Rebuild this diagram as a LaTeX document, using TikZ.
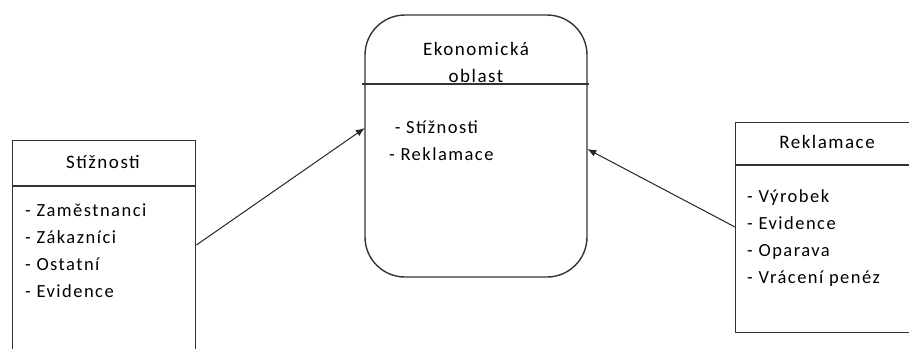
\documentclass[tikz,border=0pt]{standalone}
\usepackage{fontspec}
\setmainfont{Carlito}
\newfontfamily\spaced[LetterSpace=8]{Carlito}
\usetikzlibrary{arrows.meta}
\begin{document}
\begin{tikzpicture}[x=1pt,y=-1pt,
  boxline/.style={draw=black!80,line width=1.4pt},
  title/.style={font=\spaced\fontsize{19}{27}\selectfont,text=black},
  items/.style={font=\spaced\fontsize{18.5}{27}\selectfont,text=black,align=left,anchor=north west,inner sep=0pt},
  arr/.style={draw=black!85,line width=1pt,-{Latex[length=9pt,width=7pt]}}]
\useasboundingbox (0,0) rectangle (909,348);
\clip (0,0) rectangle (909,348);
\fill[white] (0,0) rectangle (909,348);
% central area box
\draw[boxline,rounded corners=40pt] (365,15) rectangle (587,277);
\node[minimum width=222pt,minimum height=262pt,inner sep=0pt] (cbox) at (476,146) {};
\draw[boxline] (362,84) -- (589,84);
\node[title,align=center] (ctitle) at (476,62) {Ekonomická\\oblast};
\node[items] (citems) at (389,121) {\ - Stížnosti\\- Reklamace};
% complaints box
\node[boxline,minimum width=183pt,minimum height=280pt,inner sep=0pt,anchor=north west] (lbox) at (12,140) {};
\draw[boxline] (12,186) -- (195,186);
\node[title] (ltitle) at (103,162) {Stížnosti};
\node[items] (litems) at (25,204) {- Zaměstnanci\\- Zákazníci\\- Ostatní\\- Evidence};
% claims box
\node[boxline,minimum width=230pt,minimum height=210pt,inner sep=0pt,anchor=north west] (rbox) at (735,122) {};
\draw[boxline] (735,165) -- (909,165);
\node[title] (rtitle) at (827,142) {Reklamace};
\node[items] (ritems) at (747,189) {- Výrobek\\- Evidence\\- Oparava\\- Vrácení penéz};
% connectors
\draw[arr] (lbox.north east |- 0,245) -- (cbox.west |- 0,128);
\draw[arr] (rbox.north west |- 0,227) -- (cbox.east |- 0,149);
\end{tikzpicture}
\end{document}
